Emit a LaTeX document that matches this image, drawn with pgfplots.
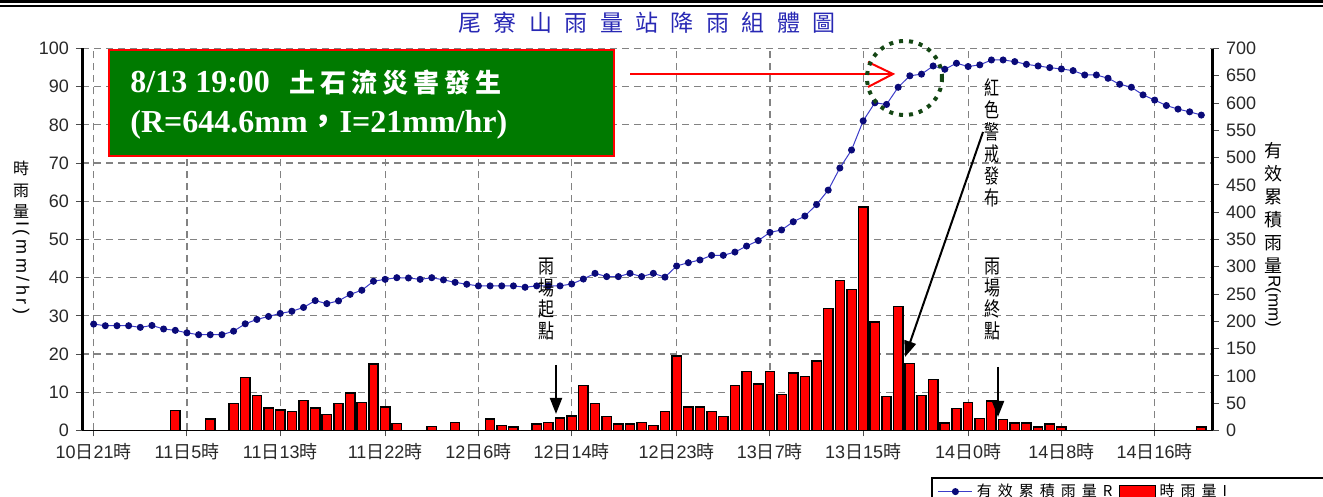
\documentclass[border=0pt]{standalone}
\usepackage{fontspec}
\setmainfont{Liberation Sans}
\newfontfamily\cjk{Noto Sans CJK TC}
\newfontfamily\titlefont[LetterSpace=54]{Noto Sans CJK TC}
\newfontfamily\legfont[LetterSpace=40]{Noto Sans CJK TC}
\newfontfamily\serifb{Liberation Serif}
\newfontfamily\rotfont[LetterSpace=20]{Liberation Sans}
\usepackage{pgfplots}
\pgfplotsset{compat=1.18}
\usetikzlibrary{arrows.meta}
\definecolor{lineblue}{RGB}{60,60,200}
\definecolor{marknavy}{RGB}{10,10,120}
\definecolor{titleblue}{RGB}{40,40,180}
\definecolor{boxgreen}{RGB}{0,122,0}
\definecolor{circgreen}{RGB}{20,70,20}
\definecolor{gridgray}{RGB}{130,130,130}
\definecolor{ticktext}{RGB}{40,40,40}
\newcommand{\ri}{{\cjk 日}}
\newcommand{\shi}{{\cjk 時}}
\newcommand{\bs}{\hspace{2.5pt}}
\pgfplotsset{rectlegend/.style={legend image code/.code={\draw[#1] (0pt,-3pt) rectangle (18pt,3pt);}}}
\begin{document}
\begin{tikzpicture}
\useasboundingbox (0,0) rectangle (661.5pt,248.5pt);
\begin{axis}[
  at={(41pt,33.25pt)}, anchor=south west, scale only axis,
  width=565.5pt, height=191pt,
  xmin=-1, xmax=96, ymin=0, ymax=100,
  axis x line*=bottom, axis y line*=left,
  y axis line style={line width=1.5pt, -},
  x axis line style={line width=0.6pt, -},
  xtick={0,8,16,25,33,41,50,58,66,75,83,91},
  xticklabels={10\ri21\shi,11\ri5\shi,11\ri13\shi,11\ri22\shi,12\ri6\shi,12\ri14\shi,12\ri23\shi,13\ri7\shi,13\ri15\shi,14\ri0\shi,14\ri8\shi,14\ri16\shi},
  ytick={0,10,...,100},
  grid=major,
  major grid style={gridgray, line width=0.6pt, dash pattern=on 3.5pt off 2.5pt},
  tick align=outside, major tick length=3pt,
  tick style={black!70, line width=0.5pt},
  ticklabel style={font=\fontsize{9}{9}\selectfont, text=ticktext},
  /pgf/number format/assume math mode=true,
]
\addplot[ybar, bar width=0.8, fill=red, draw=black, line width=0.7pt] coordinates {
(0,0) (1,0) (2,0) (3,0) (4,0) (5,0) (6,0) (7,5.2) (8,0) (9,0) (10,3.0) (11,0)
(12,7.0) (13,13.9) (14,9.1) (15,5.9) (16,5.4) (17,5.0) (18,7.8) (19,5.9) (20,4.2)
(21,7.0) (22,9.8) (23,7.4) (24,17.4) (25,6.2) (26,1.8) (27,0) (28,0) (29,1.0) (30,0)
(31,2.1) (32,0) (33,0) (34,3.0) (35,1.3) (36,0.9) (37,0) (38,1.7) (39,2.1) (40,3.3)
(41,3.8) (42,11.8) (43,7.0) (44,3.7) (45,1.7) (46,1.7) (47,2.1) (48,1.3) (49,5.0)
(50,19.5) (51,6.2) (52,6.2) (53,4.9) (54,3.7) (55,11.8) (56,15.4) (57,12.2) (58,15.4)
(59,9.4) (60,15.0) (61,14.2) (62,18.2) (63,32.0) (64,39.2) (65,36.9) (66,58.5)
(67,28.4) (68,8.9) (69,32.5) (70,17.6) (71,9.2) (72,13.3) (73,2.0) (74,5.7) (75,7.3)
(76,3.2) (77,7.7) (78,2.9) (79,2.0) (80,2.0) (81,0.9) (82,1.7) (83,0.9) (84,0) (85,0)
(86,0) (87,0) (88,0) (89,0) (90,0) (91,0) (92,0) (93,0) (94,0) (95,0.9)
};
\end{axis}
\begin{axis}[
  at={(41pt,33.25pt)}, anchor=south west, scale only axis,
  width=565.5pt, height=191pt,
  xmin=-1, xmax=96, ymin=0, ymax=700,
  axis y line*=right, axis x line=none,
  y axis line style={line width=1.5pt, -},
  ytick={0,50,...,700},
  tick align=outside, major tick length=3pt,
  tick style={black!70, line width=0.5pt},
  ticklabel style={font=\fontsize{9}{9}\selectfont, text=ticktext},
  /pgf/number format/assume math mode=true,
  legend columns=2,
  legend cell align=left,
  legend style={at={(0.7507,-0.1217)}, anchor=north west, draw=black, line width=0.8pt,
    fill=white, font=\legfont\fontsize{7.5}{8}\selectfont, inner xsep=3pt, inner ysep=1pt,
    /tikz/every even column/.append style={column sep=1pt}},
]
\addplot[lineblue, line width=0.5pt, mark=*, mark size=1.5pt, mark options={fill=marknavy, draw=marknavy}] coordinates {
(0,195) (1,192) (2,192) (3,192) (4,189) (5,192.5) (6,186) (7,183.5) (8,179) (9,175.5)
(10,175.5) (11,175.5) (12,182) (13,195.5) (14,203.5) (15,209) (16,214.5) (17,218.5)
(18,225.5) (19,238) (20,232.5) (21,237.5) (22,249.5) (23,257) (24,273.5) (25,277)
(26,280) (27,279.5) (28,277) (29,280) (30,276) (31,271.5) (32,268) (33,265) (34,265)
(35,265) (36,265) (37,262.5) (38,265) (39,265) (40,265) (41,268.5) (42,277.5) (43,288)
(44,282) (45,282) (46,288) (47,282) (48,288) (49,281) (50,301.5) (51,307.5) (52,312.5)
(53,321) (54,321) (55,327) (56,338) (57,348) (58,363) (59,367.5) (60,382.5) (61,393)
(62,414) (63,440.5) (64,481) (65,514) (66,567.5) (67,600.5) (68,597.5) (69,629)
(70,650) (71,653) (72,668) (73,662) (74,673) (75,667) (76,670) (77,679) (78,679)
(79,676) (80,671) (81,668) (82,665) (83,662.5) (84,659.5) (85,651.5) (86,651.5)
(87,645.5) (88,634.5) (89,629) (90,615) (91,605.5) (92,595.5) (93,589) (94,584) (95,578)
};
\addlegendentry{有效累積雨量R}
\addlegendimage{fill=red, draw=black, line width=0.6pt, rectlegend}
\addlegendentry{\makebox[78pt][l]{時雨量I}}
\end{axis}
\begin{scope}[x=0.5pt, y=-0.5pt, shift={(0pt,248.5pt)}]
\draw[line width=1.5pt] (0,1.5) -- (1323,1.5);
\draw[line width=1pt] (0,6.5) -- (1323,6.5);
\node[titleblue, inner sep=0, anchor=west, font=\titlefont\fontsize{11.5}{12}\selectfont] at (458,22.5) {尾寮山雨量站降雨組體圖};
\draw[red, line width=1.25pt, fill=boxgreen] (109,50) rectangle (614,156);
\node[anchor=base west, inner sep=0, text=white] at (130,93) {\serifb\bfseries\fontsize{16}{16}\selectfont 8/13 19:00\hspace{10pt}{\cjk\bfseries\fontsize{13}{13}\selectfont 土\bs 石\bs 流\bs 災\bs 害\bs 發\bs 生}};
\node[anchor=base west, inner sep=0, text=white] at (130,133) {\serifb\bfseries\fontsize{16}{16}\selectfont (R=644.6mm{\cjk\bfseries ，}I=21mm/hr)};
\draw[red, line width=1pt] (630,74) -- (893,74);
\draw[red, line width=1pt] (868,62) -- (893,74) -- (868,87);
\draw[circgreen, line width=2pt, dash pattern=on 2pt off 3pt] (904.5,78) ellipse [x radius=37.5, y radius=37];
\draw[line width=1pt, -{Triangle[length=8pt, width=6pt]}] (983,132) -- (905,357);
\node[anchor=north, inner sep=0, align=center, font=\cjk\fontsize{10}{11}\selectfont, xscale=0.75, transform shape] at (992,78) {紅\\色\\警\\戒\\發\\布};
\node[anchor=north, inner sep=0, align=center, font=\cjk\fontsize{10}{10.75}\selectfont, xscale=0.8, transform shape] at (546,258) {雨\\場\\起\\點};
\draw[line width=1pt, -{Triangle[length=8pt, width=6pt]}] (556,365) -- (556,414);
\node[anchor=north, inner sep=0, align=center, font=\cjk\fontsize{10}{10.75}\selectfont, xscale=0.8, transform shape] at (992,258) {雨\\場\\終\\點};
\draw[line width=1pt, -{Triangle[length=8pt, width=6pt]}] (998,367) -- (998,417);
\node[anchor=north, inner sep=0, align=center, font=\cjk\fontsize{8}{10.75}\selectfont] at (21,161) {時\\雨\\量\\[-9pt]\rotatebox{-90}{\rotfont\fontsize{9}{9}\selectfont I(mm/hr)}};
\node[anchor=north, inner sep=0, align=center, font=\cjk\fontsize{9}{11.5}\selectfont] at (1273,142) {有\\效\\累\\積\\雨\\量\\[-10pt]\rotatebox{-90}{\normalfont\fontsize{8.5}{9}\selectfont R(mm)}};
\end{scope}
\end{tikzpicture}
\end{document}
